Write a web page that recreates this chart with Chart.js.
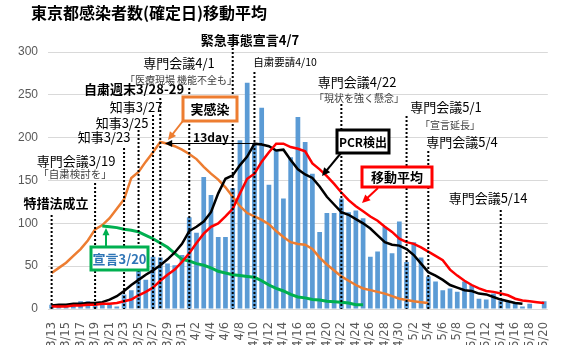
<!DOCTYPE html>
<html>
<head>
<meta charset="utf-8">
<script src="https://cdn.jsdelivr.net/npm/chart.js@4.4.1/dist/chart.umd.min.js"></script>
<style>
  html, body { margin: 0; padding: 0; background: #fff; }
</style>
</head>
<body>
<canvas id="grafico" width="563" height="345"></canvas>
<script>
const fechas = [
  '3/13','3/14','3/15','3/16','3/17','3/18','3/19','3/20','3/21','3/22',
  '3/23','3/24','3/25','3/26','3/27','3/28','3/29','3/30','3/31','4/1',
  '4/2','4/3','4/4','4/5','4/6','4/7','4/8','4/9','4/10','4/11',
  '4/12','4/13','4/14','4/15','4/16','4/17','4/18','4/19','4/20','4/21',
  '4/22','4/23','4/24','4/25','4/26','4/27','4/28','4/29','4/30','5/1',
  '5/2','5/3','5/4','5/5','5/6','5/7','5/8','5/9','5/10','5/11',
  '5/12','5/13','5/14','5/15','5/16','5/17','5/18','5/19','5/20'
];

// 確定日ベースの日別感染者数
const casos = [
  5, 3, 3, 4, 9, 9, 6, 5, 5, 3,
  17, 22, 46, 34, 61, 60, 53, 51, 63, 107,
  89, 154, 133, 84, 84, 141, 197, 264, 193, 235,
  145, 185, 129, 177, 224, 195, 158, 90, 112, 112,
  129, 113, 115, 106, 61, 67, 96, 65, 102, 55,
  78, 60, 38, 32, 22, 24, 20, 32, 28, 12,
  11, 18, 10, 9, 8, 3, 6, 0, 9
];

// 実感染（推定）
const realInfeccion = [
  42, 48, 54, 62, 70, 80, 93, 98, 106, 117,
  128, 153, 160, 172, 183, 195, 193, 190, 186, 181,
  175, 166, 158, 151, 142, 131, 120, 112, 108, 104,
  99, 91, 84, 78, 76, 75, 70, 60, 52, 45,
  38, 33, 28, 24, 22, 20, 18, 15, 12, 10.5,
  9, 8, 7, null, null, null, null, null, null, null,
  null, null, null, null, null, null, null, null, null
];

// 宣言3/20 想定
const declaracion = [
  null, null, null, null, null, null, null, 97, 96, 95,
  93, 92, 90, 86, 82, 77, 72, 65, 58, 56,
  53, 51, 48, 44, 42, 40, 39, 38, 37, 33,
  28, 24, 21, 17, 14, 13, 11, 10.5, 9, 8.5,
  8, 7, 5, 5, null, null, null, null, null, null,
  null, null, null, null, null, null, null, null, null, null,
  null, null, null, null, null, null, null, null, null
];

// PCR検出
const pcr = [
  4, 5, 5, 6, 6, 7, 7, 8, 11, 15,
  21, 28, 34, 40, 45, 51, 58, 66, 76, 91,
  96, 102, 113, 135, 152, 156, 168, 178, 193, 192,
  190, 185, 186, 174, 163, 157, 153, 143, 131, 122,
  113, 110, 105, 100, 94, 86, 78, 75, 74, 70,
  63, 53, 43, 39, 34, 28, 25, 22, 21, 18,
  17, 14, 11, 9, 7, 6, null, null, null
];

// 移動平均
const promedio = [
  3, 3, 3, 4, 4, 5, 5, 6, 6, 7,
  9, 11, 16, 20, 25, 33, 40, 46, 55, 65,
  77, 88, 96, 100, 108, 117, 135, 152, 158, 172,
  183, 193, 193, 189, 187, 184, 170, 163, 155, 146,
  136, 127, 120, 114, 108, 103, 96, 90, 82, 78,
  76, 72, 67, 62, 57, 46, 39, 33, 28, 24,
  21, 20, 18, 16, 12, 10, 9, 8, 7
];

const ticksY = [0, 50, 100, 150, 200, 250, 300];

const FUENTE = "'Noto Sans CJK JP', 'Noto Sans', sans-serif";

// 注記（日付と文言）
const eventos = [
  { fecha: '3/13', top: 215, textos: [{ t: '特措法成立', x: 56, y: 203, f: 'bold 13px' }] },
  { fecha: '3/19', top: 183, textos: [
    { t: '専門会議3/19', x: 76, y: 161, f: '13px' },
    { t: '「自粛検討を」', x: 75, y: 174, f: '10.5px', c: '#404040' }] },
  { fecha: '3/23', top: 148, textos: [{ t: '知事3/23', x: 104, y: 137, f: '13px' }] },
  { fecha: '3/25', top: 130, textos: [{ t: '知事3/25', x: 122, y: 123, f: '13px' }] },
  { fecha: '3/27', top: 115, textos: [{ t: '知事3/27', x: 136, y: 107, f: '13px' }] },
  { fecha: '3/28', top: 98, textos: [{ t: '自粛週末3/28-29', x: 134, y: 89, f: 'bold 13px' }] },
  { fecha: '4/1', top: 88, textos: [
    { t: '専門会議4/1', x: 179, y: 63, f: '13px' },
    { t: '「医療現場 機能不全も」', x: 181, y: 80, f: '10px', c: '#404040' }] },
  { fecha: '4/7', top: 48, textos: [{ t: '緊急事態宣言4/7', x: 250, y: 40, f: 'bold 13px' }] },
  { fecha: '4/10', top: 72, textos: [{ t: '自粛要請4/10', x: 285, y: 62, f: '10.5px' }] },
  { fecha: '4/22', top: 104, textos: [
    { t: '専門会議4/22', x: 357, y: 82, f: '13px' },
    { t: '「現状を強く懸念」', x: 359, y: 98, f: '10px', c: '#404040' }] },
  { fecha: '5/1', top: 116, textos: [
    { t: '専門会議5/1', x: 446, y: 107, f: '13px' },
    { t: '「宣言延長」', x: 450, y: 125, f: '10px', c: '#404040' }] },
  { fecha: '5/4', top: 151, textos: [{ t: '専門会議5/4', x: 462, y: 142, f: '13px' }] },
  { fecha: '5/14', top: 210, textos: [{ t: '専門会議5/14', x: 488, y: 198, f: '13px' }] }
];

function flecha(ctx, x1, y1, x2, y2, color, ancho, cabeza) {
  const ang = Math.atan2(y2 - y1, x2 - x1);
  ctx.save();
  ctx.strokeStyle = color;
  ctx.fillStyle = color;
  ctx.lineWidth = ancho;
  ctx.beginPath();
  ctx.moveTo(x1, y1);
  ctx.lineTo(x2 - Math.cos(ang) * cabeza * 0.6, y2 - Math.sin(ang) * cabeza * 0.6);
  ctx.stroke();
  ctx.beginPath();
  ctx.moveTo(x2, y2);
  ctx.lineTo(x2 - cabeza * Math.cos(ang - 0.45), y2 - cabeza * Math.sin(ang - 0.45));
  ctx.lineTo(x2 - cabeza * Math.cos(ang + 0.45), y2 - cabeza * Math.sin(ang + 0.45));
  ctx.closePath();
  ctx.fill();
  ctx.restore();
}

function caja(ctx, x, y, w, h, borde, texto, color, fuente) {
  ctx.save();
  ctx.fillStyle = '#fff';
  ctx.fillRect(x, y, w, h);
  ctx.lineWidth = 3;
  ctx.strokeStyle = borde;
  ctx.strokeRect(x, y, w, h);
  ctx.fillStyle = color;
  ctx.font = fuente + ' ' + FUENTE;
  ctx.textAlign = 'center';
  ctx.textBaseline = 'middle';
  ctx.fillText(texto, x + w / 2, y + h / 2 + 0.5);
  ctx.restore();
}

const notas = {
  id: 'notas',
  afterDatasetsDraw(chart) {
    const { ctx, scales: { x, y } } = chart;
    const base = y.getPixelForValue(0);

    eventos.forEach(ev => {
      const px = x.getPixelForValue(fechas.indexOf(ev.fecha));
      ctx.save();
      ctx.setLineDash([2, 2]);
      ctx.lineWidth = 2;
      ctx.strokeStyle = '#000';
      ctx.beginPath();
      ctx.moveTo(px, ev.top);
      ctx.lineTo(px, base);
      ctx.stroke();
      ctx.restore();

      ev.textos.forEach(tx => {
        ctx.save();
        ctx.font = tx.f + ' ' + FUENTE;
        ctx.fillStyle = tx.c || '#000';
        ctx.textAlign = 'center';
        ctx.textBaseline = 'middle';
        ctx.fillText(tx.t, tx.x, tx.y);
        ctx.restore();
      });
    });

    // 13day
    flecha(ctx, 262, 143.5, 165, 143.5, '#000', 1, 8);
    ctx.save();
    ctx.font = 'bold 12px ' + FUENTE;
    ctx.fillStyle = '#000';
    ctx.textAlign = 'center';
    ctx.textBaseline = 'middle';
    ctx.fillText('13day', 211, 137);
    ctx.restore();

    flecha(ctx, 186, 117, 168, 140, '#ed7d31', 2, 9);
    caja(ctx, 183, 97, 54, 24, '#ed7d31', '実感染', '#000', 'bold 13px');

    flecha(ctx, 341, 153, 322, 176, '#000', 2, 9);
    caja(ctx, 337, 130, 52, 23, '#000', 'PCR検出', '#000', 'bold 12px');

    flecha(ctx, 378, 188, 362, 203, '#ff0000', 2, 9);
    caja(ctx, 362, 167, 70, 20, '#ff0000', '移動平均', '#000', 'bold 13px');

    flecha(ctx, 106, 247, 106, 228, '#00b050', 2, 8);
    caja(ctx, 91, 247, 57, 23, '#00b050', '宣言3/20', '#2e75b6', 'bold 13px');

    // タイトル
    ctx.save();
    ctx.font = 'bold 16px ' + FUENTE;
    ctx.fillStyle = '#000';
    ctx.textAlign = 'left';
    ctx.textBaseline = 'middle';
    ctx.fillText('東京都感染者数(確定日)移動平均', 31, 13);
    ctx.restore();
  }
};

const linea = (data, color, ancho, orden) => ({
  type: 'line',
  data,
  borderColor: color,
  borderWidth: ancho,
  pointRadius: 0,
  tension: 0,
  fill: false,
  spanGaps: false,
  order: orden
});

new Chart(document.getElementById('grafico'), {
  type: 'bar',
  data: {
    labels: fechas,
    datasets: [
      {
        type: 'bar',
        data: casos,
        backgroundColor: '#5b9bd5',
        barPercentage: 0.65,
        categoryPercentage: 1,
        order: 5
      },
      linea(realInfeccion, '#ed7d31', 2.5, 4),
      linea(declaracion, '#00b050', 3, 3),
      linea(pcr, '#000000', 2.5, 2),
      linea(promedio, '#ff0000', 2.5, 1)
    ]
  },
  options: {
    responsive: false,
    animation: false,
    layout: { padding: { top: 52, right: 2, left: 0, bottom: 0 } },
    plugins: {
      legend: { display: false },
      tooltip: { enabled: false },
      title: { display: false }
    },
    scales: {
      x: {
        grid: { display: false },
        border: { display: false },
        ticks: {
          autoSkip: false,
          maxRotation: 90,
          minRotation: 90,
          padding: 5,
          color: '#595959',
          font: { size: 11.5, family: "'DejaVu Sans', sans-serif" },
          callback: (v, i) => (i % 2 === 0 ? fechas[i] : '')
        },
        afterFit: s => { s.height = 36; }
      },
      y: {
        min: 0,
        max: 300,
        afterBuildTicks: s => { s.ticks = ticksY.map(v => ({ value: v })); },
        grid: { color: '#d9d9d9', drawTicks: false },
        border: { display: false },
        ticks: {
          padding: 10,
          color: '#595959',
          font: { size: 12, family: "'Liberation Sans', sans-serif" }
        },
        afterFit: s => { s.width = 48; }
      }
    }
  },
  plugins: [notas]
});
</script>
</body>
</html>
